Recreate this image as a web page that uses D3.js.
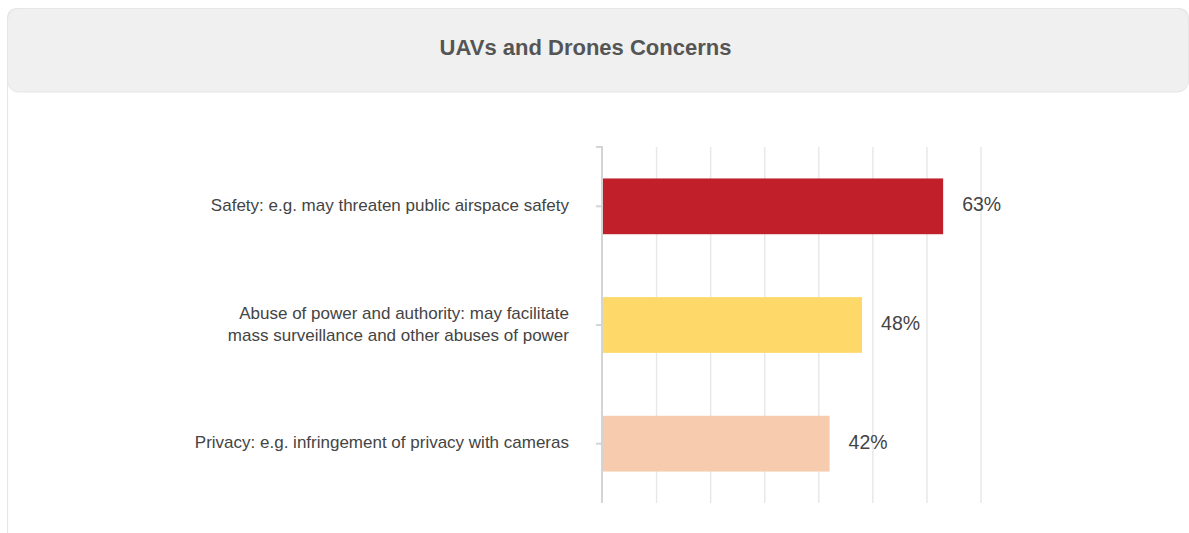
<!DOCTYPE html>
<html><head><meta charset="utf-8">
<script src="https://cdn.jsdelivr.net/npm/d3@7"></script>
<style>
body{margin:0;background:#fff;font-family:"Liberation Sans",Arial,Helvetica,sans-serif;}
</style></head><body>
<svg id="chart" width="1189" height="533"></svg>
<script>
const title = "UAVs and Drones Concerns";
const categories = [
  ["Safety: e.g. may threaten public airspace safety"],
  ["Abuse of power and authority: may facilitate", "mass surveillance and other abuses of power"],
  ["Privacy: e.g. infringement of privacy with cameras"]
];
const values = [63, 48, 42];
const colors = ["#C1202A", "#FED96A", "#F7CBAE"];
const xTicks = [0, 10, 20, 30, 40, 50, 60, 70];

const svg = d3.select("#chart");

// panel frame
svg.append("path")
  .attr("d", "M7.5,533 L7.5,19 Q7.5,8.5 18,8.5 L1178,8.5 Q1188.5,8.5 1188.5,19 L1188.5,80")
  .attr("fill", "none").attr("stroke", "#e6e6e6").attr("stroke-width", 1.2);
svg.append("rect").attr("x", 7.5).attr("y", 8.5).attr("width", 1181).attr("height", 83.5)
  .attr("rx", 11).attr("fill", "#f0f0f0").attr("stroke", "#e6e6e6").attr("stroke-width", 1);
svg.append("text").attr("x", 585.5).attr("y", 55).attr("text-anchor", "middle")
  .attr("font-size", 22).attr("font-weight", "bold").attr("fill", "#555").text(title);

const x = d3.scaleLinear().domain([0, 70]).range([602.5, 981]);
const y = d3.scaleBand().domain(d3.range(categories.length)).range([147, 503]).paddingInner(0.53).paddingOuter(0.265);

// gridlines
svg.append("g").selectAll("line").data(xTicks.slice(1)).join("line")
  .attr("x1", d => x(d)).attr("x2", d => x(d)).attr("y1", 147).attr("y2", 503)
  .attr("stroke", "#e8e8e8").attr("stroke-width", 1.5);

// bars
svg.append("g").selectAll("rect").data(values).join("rect")
  .attr("x", x(0)).attr("y", (d, i) => y(i))
  .attr("width", d => x(d) - x(0)).attr("height", y.bandwidth())
  .attr("fill", (d, i) => colors[i]);

// y axis
const yAxis = d3.axisLeft(y).tickSize(6).tickFormat("");
const ga = svg.append("g").attr("transform", `translate(${x(0) - 0.5},0)`).call(yAxis);
ga.select(".domain").attr("stroke", "#d4d4d4").attr("stroke-width", 2)
  .attr("d", "M-6,147H0V503");
ga.selectAll(".tick line").attr("stroke", "#d4d4d4").attr("stroke-width", 2).attr("x2", -6);

// category labels
const lab = svg.append("g").selectAll("text").data(categories).join("text")
  .attr("text-anchor", "end").attr("font-size", 17).attr("fill", "#444")
  .attr("transform", (d, i) => `translate(569,${y(i) + y.bandwidth() / 2})`);
lab.each(function(lines) {
  const t = d3.select(this);
  const n = lines.length;
  lines.forEach((s, k) => {
    t.append("tspan").attr("x", 0).attr("y", (k - (n - 1) / 2) * 22 + 4.5).text(s);
  });
});

// value labels
svg.append("g").selectAll("text").data(values).join("text")
  .attr("x", d => x(d) + 19).attr("y", (d, i) => y(i) + y.bandwidth() / 2 + 5)
  .attr("font-size", 19.5).attr("fill", "#444").text(d => d + "%");
</script>
</body></html>
